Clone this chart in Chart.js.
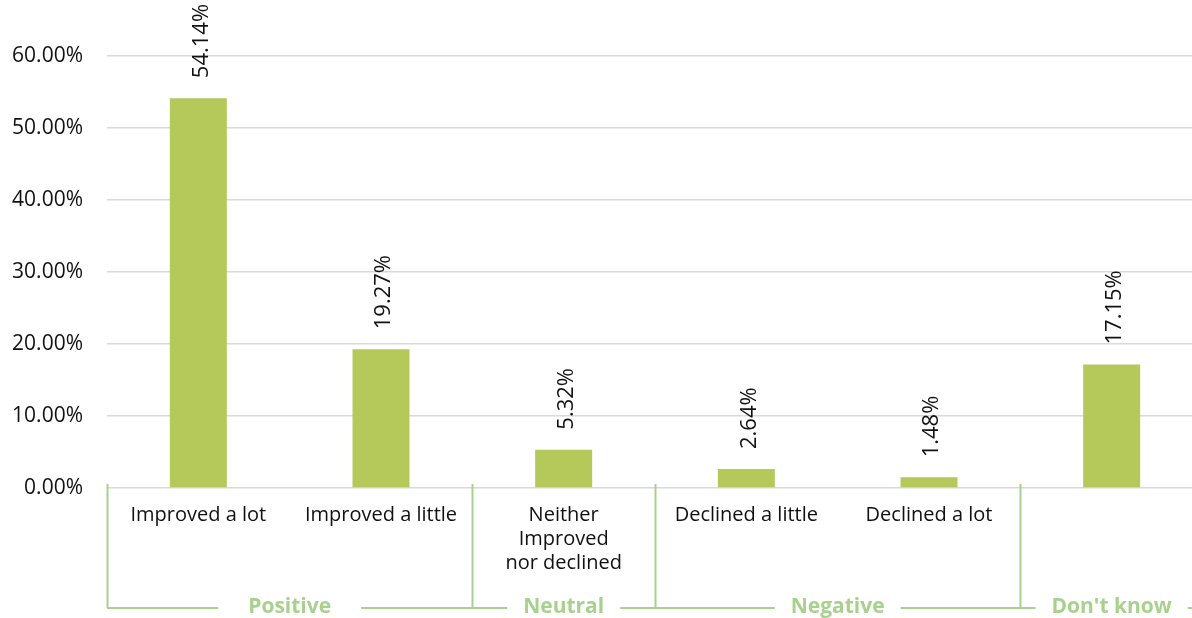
<!DOCTYPE html>
<html>
<head>
<meta charset="utf-8">
<script src="https://cdn.jsdelivr.net/npm/chart.js@4/dist/chart.umd.min.js"></script>
<style>
  html, body { margin: 0; padding: 0; background: #fff; overflow: hidden; }
  #wrap { width: 1203px; height: 618px; position: relative; }
</style>
</head>
<body>
<div id="wrap"><canvas id="c"></canvas></div>
<script>
// Survey responses, share of respondents (%)
const categories = [
  "Improved a lot",
  "Improved a little",
  ["Neither", "Improved", "nor declined"],
  "Declined a little",
  "Declined a lot",
  ""
];
const values = [54.14, 19.27, 5.32, 2.64, 1.48, 17.15];
const yTicks = [0, 10, 20, 30, 40, 50, 60];

// Response groups: label, first category index, number of categories
const groupNames = ["Positive", "Neutral", "Negative", "Don't know"];
const groupStart = [0, 2, 3, 5];
const groupSize = [2, 1, 2, 1];

const BAR = "#b5c95b";
const GROUP = "#a9d18e";
const TEXT = "#111111";
const FONT = "'Open Sans', 'Noto Sans', sans-serif";

const valueLabels = {
  id: "valueLabels",
  afterDatasetsDraw(chart) {
    const ctx = chart.ctx;
    const meta = chart.getDatasetMeta(0);
    ctx.save();
    ctx.fillStyle = TEXT;
    ctx.font = "22px " + FONT;
    ctx.textAlign = "left";
    ctx.textBaseline = "middle";
    meta.data.forEach((bar, i) => {
      ctx.save();
      ctx.translate(bar.x + 3, bar.y - 20);
      ctx.rotate(-Math.PI / 2);
      ctx.fillText(values[i].toFixed(2) + "%", 0, 0);
      ctx.restore();
    });
    ctx.restore();
  }
};

const groupBrackets = {
  id: "groupBrackets",
  afterDraw(chart) {
    const ctx = chart.ctx;
    const area = chart.chartArea;
    const step = (area.right - area.left) / categories.length;
    const lineY = 608;
    const topY = area.bottom - 4;
    ctx.save();
    ctx.strokeStyle = GROUP;
    ctx.lineWidth = 2;
    // vertical dividers at the start of each group
    groupStart.forEach(s => {
      const x = Math.round(area.left + s * step) + 0.5;
      ctx.beginPath();
      ctx.moveTo(x, topY);
      ctx.lineTo(x, lineY);
      ctx.stroke();
    });
    // group names with the baseline broken around them
    ctx.font = "bold 21px " + FONT;
    ctx.fillStyle = GROUP;
    ctx.textAlign = "center";
    ctx.textBaseline = "middle";
    const gaps = [];
    groupNames.forEach((name, g) => {
      const cx = area.left + (groupStart[g] + groupSize[g] / 2) * step;
      const w = ctx.measureText(name).width;
      const pad = g === 0 ? 30 : 16;
      gaps.push([cx - w / 2 - pad, cx + w / 2 + pad]);
      ctx.fillText(name, cx, lineY - 1);
    });
    let x0 = area.left;
    const xEnd = 1192;
    gaps.forEach(([a, b]) => {
      ctx.beginPath();
      ctx.moveTo(x0, lineY);
      ctx.lineTo(Math.min(a, xEnd), lineY);
      ctx.stroke();
      x0 = b;
    });
    if (x0 < xEnd) {
      ctx.beginPath();
      ctx.moveTo(x0, lineY);
      ctx.lineTo(xEnd, lineY);
      ctx.stroke();
    }
    ctx.restore();
  }
};

new Chart(document.getElementById("c"), {
  type: "bar",
  data: {
    labels: categories,
    datasets: [{
      data: values,
      backgroundColor: BAR,
      borderWidth: 0,
      barPercentage: 0.312,
      categoryPercentage: 1
    }]
  },
  options: {
    responsive: true,
    maintainAspectRatio: false,
    animation: false,
    layout: { padding: { top: 56, left: 0, right: 0, bottom: 0 } },
    plugins: { legend: { display: false }, tooltip: { enabled: false } },
    scales: {
      x: {
        grid: { display: false, drawTicks: false },
        border: { display: false },
        ticks: {
          color: TEXT,
          font: { family: FONT, size: 20, lineHeight: 1.2 },
          padding: 15,
          maxRotation: 0,
          autoSkip: false
        },
        afterFit(scale) { scale.height = 130; }
      },
      y: {
        min: 0,
        max: 60,
        afterBuildTicks(scale) { scale.ticks = yTicks.map(v => ({ value: v })); },
        grid: { color: "#d9d9d9", lineWidth: 1.5, drawTicks: false },
        border: { display: false },
        ticks: {
          color: TEXT,
          font: { family: FONT, size: 21 },
          padding: 24,
          callback: v => v.toFixed(2) + "%"
        },
        afterFit(scale) { scale.width = 107; }
      }
    }
  },
  plugins: [valueLabels, groupBrackets]
});
</script>
</body>
</html>
